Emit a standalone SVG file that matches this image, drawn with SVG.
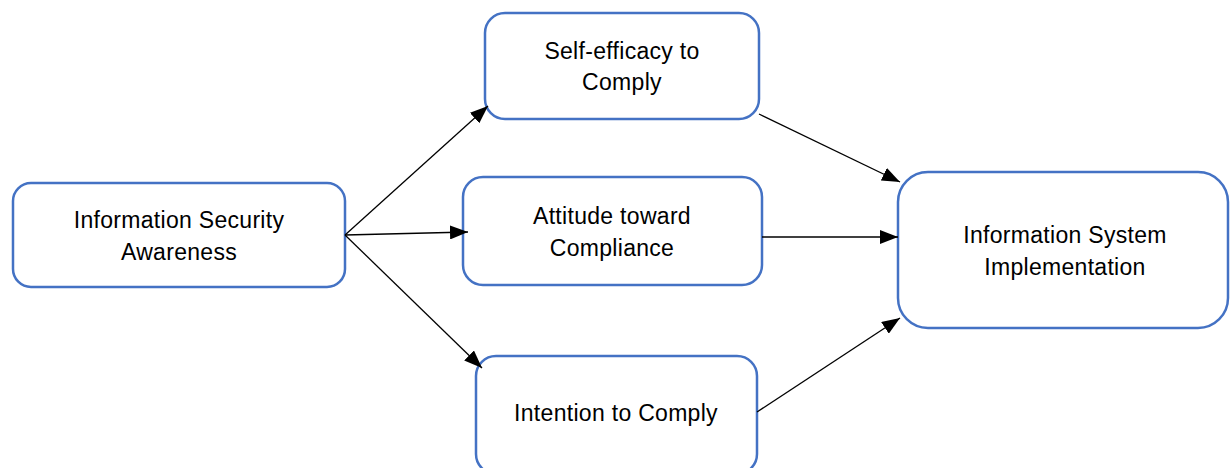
<svg xmlns="http://www.w3.org/2000/svg" width="1230" height="468" viewBox="0 0 1230 468">
<style>
.box{fill:#fff;stroke:#4472C4;stroke-width:2.5}
.t{font-family:"Liberation Sans",Arial,sans-serif;font-size:23px;letter-spacing:0.3px;fill:#000;text-anchor:middle}
.c{stroke:#000;stroke-width:1.3;fill:none;marker-end:url(#ah)}
</style>
<defs>
<marker id="ah" viewBox="0 0 18 14" refX="18" refY="7" markerWidth="18" markerHeight="14" markerUnits="userSpaceOnUse" orient="auto">
<path d="M0,0 L18,7 L0,14 Z" fill="#000"/>
</marker>
</defs>
<rect width="1230" height="468" fill="#fff"/>
<g id="n1"><rect class="box" x="13" y="183" width="332" height="104" rx="18"/>
<text class="t" x="179" y="228">Information Security</text><text class="t" x="179" y="260">Awareness</text></g>
<g id="n2"><rect class="box" x="485" y="13" width="274" height="106" rx="20"/>
<text class="t" x="622" y="59">Self-efficacy to</text><text class="t" x="622" y="90">Comply</text></g>
<g id="n3"><rect class="box" x="463" y="177" width="299" height="108" rx="20"/>
<text class="t" x="612" y="224">Attitude toward</text><text class="t" x="612" y="256">Compliance</text></g>
<g id="n4"><rect class="box" x="476" y="356" width="281" height="118" rx="20"/>
<text class="t" x="616" y="421">Intention to Comply</text></g>
<g id="n5"><rect class="box" x="898" y="172" width="330" height="156" rx="30"/>
<text class="t" x="1065" y="243">Information System</text><text class="t" x="1065" y="275">Implementation</text></g>
<g id="connectors">
<line class="c" x1="345" y1="235" x2="488" y2="106"/>
<line class="c" x1="345" y1="235" x2="468" y2="232"/>
<line class="c" x1="345" y1="235" x2="482" y2="368"/>
<line class="c" x1="759" y1="114" x2="900" y2="182"/>
<line class="c" x1="762" y1="237" x2="898" y2="237"/>
<line class="c" x1="757" y1="412" x2="900" y2="318"/>
</g>
</svg>
